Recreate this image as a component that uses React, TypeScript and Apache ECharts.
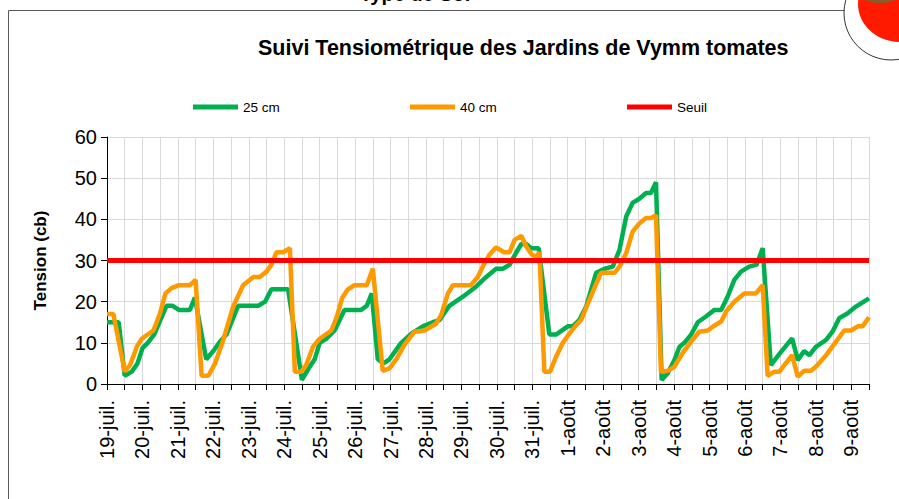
import React, { useEffect, useRef } from 'react';
import * as echarts from 'echarts';

// Day labels: x value 0 = 19-juil., 1 = 20-juil., ...
const dayLabels = [
  '19-juil.', '20-juil.', '21-juil.', '22-juil.', '23-juil.', '24-juil.', '25-juil.',
  '26-juil.', '27-juil.', '28-juil.', '29-juil.', '30-juil.', '31-juil.',
  '1-août', '2-août', '3-août', '4-août', '5-août', '6-août', '7-août', '8-août', '9-août',
];

// 25 cm probe (time in days since 19-juil.)
const t25 = [
  0, 0.33, 0.5, 0.7, 0.86, 1.0, 1.15, 1.33, 1.52, 1.68, 1.85, 2.03, 2.34, 2.48,
  2.8, 3.0, 3.19, 3.37, 3.56, 3.7, 4.27, 4.46, 4.64, 5.11,
  5.5, 5.67, 5.86, 6.0, 6.19, 6.42, 6.56, 6.7, 7.17, 7.33, 7.47,
  7.64, 7.8, 7.97, 8.3, 8.63, 8.91, 9.19, 9.38, 9.66, 10.04, 10.42, 10.7, 10.98, 11.17,
  11.36, 11.55, 11.69, 11.83, 11.97, 12.18,
  12.48, 12.67, 13.0, 13.14, 13.33, 13.52, 13.8, 14.04, 14.27, 14.46, 14.65, 14.83,
  15.02, 15.21, 15.35, 15.49,
  15.65, 15.82, 16.01, 16.15, 16.29, 16.48, 16.67, 16.9, 17.14, 17.33, 17.51, 17.7,
  17.89, 18.12, 18.33, 18.5,
  18.73, 18.99, 19.33, 19.49, 19.67, 19.82, 20.0, 20.29, 20.47, 20.66, 20.9, 21.13, 21.5,
];
const v25 = [
  15, 15, 2, 3, 5, 8.7, 10, 12, 15.8, 19, 19, 18, 18, 21,
  6, 8, 10.3, 12, 16, 19, 19, 20, 23, 23,
  1, 3.5, 6, 10, 11, 13, 15.5, 18, 18, 19, 22,
  6, 5, 6, 10, 12.5, 14, 15, 15.5, 19, 21.2, 23.7, 26, 28, 28,
  29, 32, 34, 34, 33, 33,
  12, 12, 14, 14, 15.6, 18.8, 27, 28, 28.5, 32.6, 40.7, 44,
  45, 46.4, 46.4, 49,
  1, 2.6, 5.8, 9, 10, 12, 15, 16.4, 18, 18, 21.2, 25.3,
  27.3, 28.5, 29, 33,
  4.6, 7.5, 11.1, 5.8, 8, 7, 9, 10.7, 12.7, 16, 17.2, 18.8, 20.8,
];

// 40 cm probe
const t40 = [
  0, 0.18, 0.5, 0.65, 0.84, 0.98, 1.31, 1.49, 1.65, 1.82, 2.03, 2.34, 2.5,
  2.67, 2.86, 3.05, 3.28, 3.56, 3.84, 4.13, 4.31, 4.5, 4.64, 4.78, 4.97, 5.16,
  5.3, 5.48, 5.62, 5.81, 6.0, 6.33, 6.47, 6.64, 6.8, 6.98, 7.33, 7.5,
  7.78, 7.97, 8.16, 8.39, 8.68, 8.96, 9.29, 9.43, 9.62, 9.76, 10.27, 10.46, 10.6, 10.79,
  10.98, 11.2, 11.36, 11.5, 11.69, 11.83, 11.99, 12.11, 12.2,
  12.34, 12.5, 12.67, 12.86, 13.05, 13.24, 13.38, 13.57, 13.75, 13.94, 14.32, 14.46,
  14.65, 14.83, 15.02, 15.21, 15.35, 15.49,
  15.63, 15.82, 16.01, 16.24, 16.48, 16.71, 16.95, 17.09, 17.33, 17.47, 17.7, 17.98,
  18.31, 18.5,
  18.64, 18.83, 18.97, 19.33, 19.49, 19.67, 19.86, 20.0, 20.29, 20.57, 20.8, 20.99,
  21.18, 21.32, 21.5,
];
const v40 = [
  17, 17, 3, 4.6, 9, 11, 13, 17, 22, 23.3, 24, 24, 25.3,
  2, 2, 5, 10.7, 18.8, 24, 26, 26, 27.3, 29, 32, 32, 33,
  3, 3, 4.6, 9, 11, 13, 16, 21, 23, 24, 24, 28,
  3.2, 3.8, 6, 9.5, 12.7, 13, 14.7, 16.8, 22, 24, 24, 26, 28.5, 31.4,
  33.2, 32, 32, 35, 36, 33.4, 31.4, 31, 32,
  3, 3, 6.6, 10, 12.3, 14.3, 15.6, 19.6, 23.3, 27, 27, 28.5,
  31.8, 37, 39, 40.3, 40.3, 41,
  3, 3.2, 4.2, 7.5, 10.3, 12.7, 13, 13.9, 15.2, 17.6, 20, 22,
  22, 24,
  2, 3, 3, 7, 1.8, 3.2, 3.2, 4.2, 7, 10.3, 13, 13,
  14, 14, 16.2,
];

const seuil = 30;
const xMin = 0;
const xMax = 21.5;

const FONT = '"Liberation Sans", Arial, sans-serif';

function zip(ts: number[], vs: number[]) {
  return ts.map((t, i) => [t, vs[i]]);
}

export default function App() {
  const ref = useRef<HTMLDivElement>(null);
  useEffect(() => {
    const chart = echarts.init(ref.current!, null, { renderer: 'svg' });
    const legendBase = {
      top: 95,
      itemWidth: 45,
      itemHeight: 5,
      icon: 'rect',
      textStyle: { fontSize: 13.5, color: '#000', fontFamily: FONT },
    };
    chart.setOption({
      animation: false,
      backgroundColor: '#fff',
      textStyle: { fontFamily: FONT },
      title: {
        text: 'Suivi Tensiométrique des Jardins de Vymm tomates',
        left: 253,
        top: 32,
        textStyle: { fontSize: 21.5, fontWeight: 'bold', color: '#000', fontFamily: FONT },
      },
      legend: [
        { ...legendBase, left: 188, data: ['25 cm'] },
        { ...legendBase, left: 405, data: ['40 cm'] },
        { ...legendBase, left: 622, data: ['Seuil'] },
      ],
      grid: { left: 107, right: 30, top: 137, bottom: 115 },
      xAxis: {
        type: 'value',
        min: xMin,
        max: xMax,
        interval: 0.5,
        axisLine: { show: true, onZero: false, lineStyle: { color: '#000', width: 1 } },
        axisTick: { show: true, length: 6, lineStyle: { color: '#000' } },
        splitLine: { show: true, lineStyle: { color: '#d9d9d9', width: 1 } },
        axisLabel: {
          rotate: 90,
          fontSize: 20,
          color: '#000',
          margin: 16,
          hideOverlap: false,
          formatter: (v: number) => {
            const r = Math.round(v);
            return Math.abs(v - r) < 1e-6 && dayLabels[r] ? dayLabels[r] : '';
          },
        },
      },
      yAxis: {
        type: 'value',
        min: 0,
        max: 60,
        interval: 10,
        name: 'Tension (cb)',
        nameLocation: 'middle',
        nameGap: 58,
        nameTextStyle: { fontSize: 17, fontWeight: 'bold', color: '#000', fontFamily: FONT },
        axisLine: { show: true, lineStyle: { color: '#000', width: 1 } },
        axisTick: { show: true, length: 6, lineStyle: { color: '#000' } },
        splitLine: { show: true, lineStyle: { color: '#d9d9d9', width: 1 } },
        axisLabel: { fontSize: 20, color: '#000', margin: 10 },
      },
      series: [
        {
          name: '25 cm',
          type: 'line',
          data: zip(t25, v25),
          symbol: 'none',
          lineStyle: { color: '#00B050', width: 4.5 },
          itemStyle: { color: '#00B050' },
        },
        {
          name: '40 cm',
          type: 'line',
          data: zip(t40, v40),
          symbol: 'none',
          lineStyle: { color: '#FF9900', width: 4.5 },
          itemStyle: { color: '#FF9900' },
        },
        {
          name: 'Seuil',
          type: 'line',
          data: [[xMin, seuil], [xMax, seuil]],
          symbol: 'none',
          lineStyle: { color: '#FF0000', width: 5 },
          itemStyle: { color: '#FF0000' },
        },
      ],
      graphic: [
        { type: 'line', shape: { x1: 8.5, y1: 10.5, x2: 850, y2: 10.5 }, style: { stroke: '#595959', lineWidth: 1 } },
        { type: 'line', shape: { x1: 8.5, y1: 10.5, x2: 8.5, y2: 499 }, style: { stroke: '#595959', lineWidth: 1 } },
        {
          type: 'text',
          x: 415,
          y: 4,
          style: {
            text: 'Type de Sol',
            font: 'bold 20px "Liberation Sans", Arial, sans-serif',
            fill: '#000',
            align: 'center',
            verticalAlign: 'bottom',
          },
        },
        { type: 'circle', shape: { cx: 891, cy: 13, r: 47 }, style: { fill: '#fff', stroke: '#333', lineWidth: 1 } },
        { type: 'ellipse', shape: { cx: 900, cy: 4, rx: 42, ry: 38 }, style: { fill: '#FF1A00' } },
        { type: 'ellipse', shape: { cx: 880, cy: 0, rx: 14, ry: 3 }, style: { fill: '#8B5A2B' } },
      ],
    });
    return () => chart.dispose();
  }, []);
  return (
    <div
      ref={ref}
      style={{ position: 'absolute', left: 0, top: 0, width: 899, height: 499, background: '#fff' }}
    />
  );
}
